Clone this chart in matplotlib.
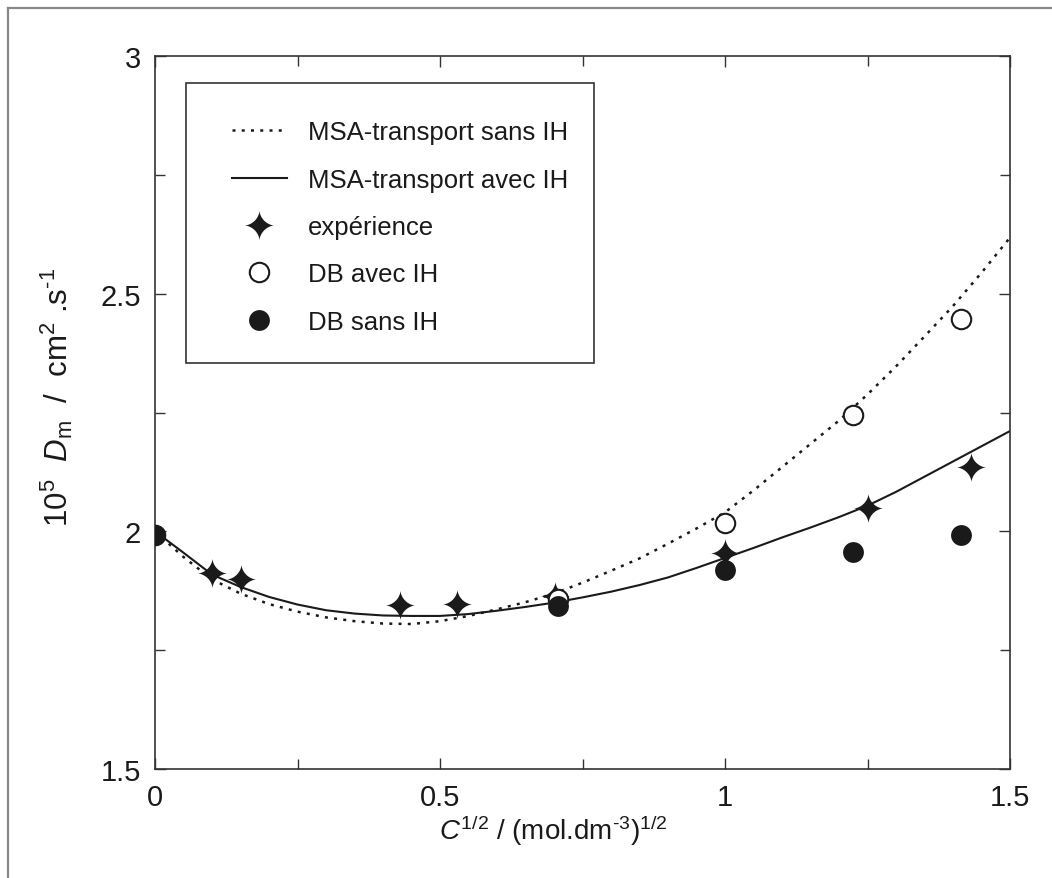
import matplotlib
matplotlib.use("Agg")
import matplotlib.pyplot as plt
from matplotlib.path import Path
from matplotlib.lines import Line2D
from matplotlib.patches import Rectangle
from matplotlib.ticker import MultipleLocator, FuncFormatter
import numpy as np

plt.rcParams['font.family'] = ['Liberation Sans', 'DejaVu Sans']
plt.rcParams['mathtext.fontset'] = 'custom'
plt.rcParams['mathtext.rm'] = 'Liberation Sans'
plt.rcParams['mathtext.it'] = 'Liberation Sans:italic'

# curves
curve_x = [0.0, 0.05, 0.1, 0.15, 0.2, 0.25, 0.3, 0.35, 0.4, 0.45, 0.5, 0.55, 0.6, 0.65,
           0.7, 0.75, 0.8, 0.85, 0.9, 0.95, 1.0, 1.05, 1.1, 1.15, 1.2, 1.25, 1.3, 1.35,
           1.4, 1.45, 1.5]
msa_sans_ih = [2.0, 1.946, 1.899, 1.869, 1.847, 1.831, 1.819, 1.811, 1.806, 1.805, 1.811,
               1.822, 1.836, 1.851, 1.869, 1.892, 1.917, 1.943, 1.974, 2.006, 2.040, 2.086,
               2.135, 2.184, 2.233, 2.288, 2.347, 2.410, 2.474, 2.544, 2.618]
msa_avec_ih = [2.0, 1.955, 1.909, 1.883, 1.862, 1.846, 1.834, 1.827, 1.823, 1.822, 1.822,
               1.826, 1.833, 1.841, 1.850, 1.861, 1.873, 1.887, 1.903, 1.923, 1.944, 1.965,
               1.987, 2.008, 2.030, 2.054, 2.083, 2.115, 2.147, 2.179, 2.211]

# experiment
exp_x = [0.1, 0.15, 0.43, 0.53, 0.702, 1.0, 1.25, 1.432]
exp_y = [1.912, 1.900, 1.845, 1.847, 1.864, 1.954, 2.049, 2.135]

# Debye-Bjerrum points
db_x = [0.0, 0.707, 1.0, 1.225, 1.414]
db_avec_ih = [1.993, 1.858, 2.017, 2.245, 2.447]
db_sans_ih = [1.993, 1.843, 1.918, 1.956, 1.992]

labels = ['MSA-transport sans IH', 'MSA-transport avec IH', 'expérience',
          'DB avec IH', 'DB sans IH']

# 4-pointed star marker with concave sides
t = np.linspace(0, 2 * np.pi, 121)
sx = np.sign(np.cos(t)) * np.abs(np.cos(t)) ** 3.3
sy = np.sign(np.sin(t)) * np.abs(np.sin(t)) ** 3.3
star = Path(np.column_stack([sx, sy]), closed=True)

ink = '#1a1a1a'

fig = plt.figure(figsize=(10.52, 8.79), dpi=100)
ax = fig.add_axes([155 / 1052, 1 - 770 / 879, 855 / 1052, 713 / 879])

ax.plot(curve_x, msa_sans_ih, color=ink, lw=1.8, linestyle=(0, (1.2, 2.5)),
        label=labels[0], zorder=2)
ax.plot(curve_x, msa_avec_ih, color=ink, lw=1.5, label=labels[1], zorder=2)
ax.plot(exp_x, exp_y, linestyle='none', marker=star, markersize=21.5, color=ink,
        markeredgewidth=0, label=labels[2], zorder=3)
ax.plot(db_x, db_avec_ih, linestyle='none', marker='o', markersize=14,
        markerfacecolor='white', markeredgecolor=ink, markeredgewidth=1.5,
        label=labels[3], zorder=4)
ax.plot(db_x, db_sans_ih, linestyle='none', marker='o', markersize=15, color=ink,
        markeredgewidth=0, label=labels[4], zorder=5)

ax.set_xlim(0, 1.5)
ax.set_ylim(1.5, 3)
ax.xaxis.set_major_locator(MultipleLocator(0.5))
ax.xaxis.set_minor_locator(MultipleLocator(0.25))
ax.yaxis.set_major_locator(MultipleLocator(0.5))
ax.yaxis.set_minor_locator(MultipleLocator(0.25))
fmt = FuncFormatter(lambda v, p: f'{v:g}')
ax.xaxis.set_major_formatter(fmt)
ax.yaxis.set_major_formatter(fmt)
ax.tick_params(which='both', direction='in', top=True, right=True, color='#333333',
               width=1.0, labelsize=21, labelcolor=ink)
ax.tick_params(which='major', length=8, pad=10)
ax.tick_params(which='minor', length=7)
for s in ax.spines.values():
    s.set_linewidth(1.2)
    s.set_color('#333333')

fig.text(553 / 1052, 1 - 831 / 879,
         r'$\mathit{C}^{1/2}$ / (mol.dm$^{\text{-3}}$)$^{1/2}$',
         ha='center', va='center', fontsize=20, color=ink)
fig.text(57 / 1052, 1 - 397 / 879,
         r'10$^{5}$  $\mathit{D}_{\mathrm{m}}$  /  cm$^{2}$ .s$^{\text{-1}}$',
         ha='center', va='center', rotation=90, fontsize=22.5, color=ink)

# legend box drawn by hand, entries placed inside it
ax.add_patch(Rectangle((0.036, 0.569), 0.477, 0.393, transform=ax.transAxes,
                       facecolor='white', edgecolor='#333333', lw=1.2, zorder=6))
leg = ax.legend(loc='upper left', bbox_to_anchor=(0.090, 0.910), fontsize=18.5,
                frameon=False, borderpad=0, borderaxespad=0, labelspacing=0.91,
                handlelength=2.14, handletextpad=0.82)
leg.set_zorder(7)
for txt in leg.get_texts():
    txt.set_color(ink)

# grey frame around the figure (left and top edges)
fig.add_artist(Line2D([8 / 1052, 8 / 1052], [0, 1 - 9 / 879], color='#888888', lw=1.6))
fig.add_artist(Line2D([8 / 1052, 1], [1 - 9 / 879, 1 - 9 / 879], color='#888888', lw=1.6))

fig.savefig('out.png', dpi=100)
